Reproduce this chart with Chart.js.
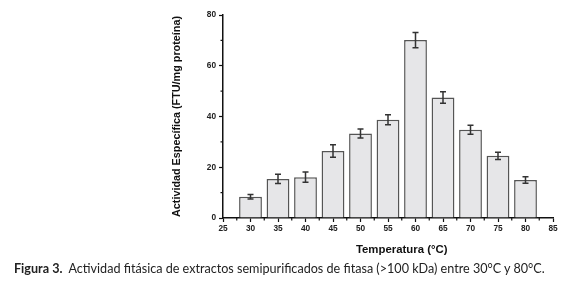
<!DOCTYPE html>
<html>
<head>
<meta charset="utf-8">
<script src="https://cdn.jsdelivr.net/npm/chart.js@4.4.1/dist/chart.umd.min.js"></script>
<style>
  html, body { margin: 0; padding: 0; background: #fff; }
  #wrap { position: relative; width: 579px; height: 292px; }
  #caption {
    position: absolute; left: 14px; top: 261px;
    font-family: Lato, "Open Sans", sans-serif; font-size: 12.6px; color: #222;
    white-space: nowrap;
  }
  #caption b { font-weight: 700; }
</style>
</head>
<body>
<div id="wrap">
  <canvas id="chart" width="579" height="292"></canvas>
  <div id="caption"><b>Figura 3.</b>&nbsp; Actividad fitásica de extractos semipurificados de fitasa (&gt;100 kDa) entre 30°C y 80°C.</div>
</div>
<script>
const temperatures = [30, 35, 40, 45, 50, 55, 60, 65, 70, 75, 80];
const activity = [8.4, 15.4, 16.1, 26.4, 33.3, 38.7, 70.1, 47.5, 34.8, 24.5, 15.0];
const errors = [0.9, 1.8, 2.0, 2.5, 1.8, 2.0, 3.0, 2.3, 1.8, 1.4, 1.3];
const xTicks = [25, 30, 35, 40, 45, 50, 55, 60, 65, 70, 75, 80, 85];
const yTicks = [0, 20, 40, 60, 80];
const xTitle = 'Temperatura (°C)';

const fontFam = '"Liberation Sans", Arial, sans-serif';

// error bars, minor ticks and the x title (sits right of centre in the original)
const extrasPlugin = {
  id: 'extras',
  afterDatasetsDraw(chart) {
    const ctx = chart.ctx;
    const x = chart.scales.x, y = chart.scales.y;
    ctx.save();
    ctx.strokeStyle = '#333';
    ctx.lineWidth = 1.5;
    temperatures.forEach((t, i) => {
      const px = x.getPixelForValue(t);
      const top = y.getPixelForValue(activity[i] + errors[i]);
      const bot = y.getPixelForValue(activity[i] - errors[i]);
      ctx.beginPath();
      ctx.moveTo(px, top); ctx.lineTo(px, bot);
      ctx.moveTo(px - 3, top); ctx.lineTo(px + 3, top);
      ctx.moveTo(px - 3, bot); ctx.lineTo(px + 3, bot);
      ctx.stroke();
    });
    ctx.strokeStyle = '#111';
    ctx.lineWidth = 1.2;
    const bottom = chart.chartArea.bottom, left = chart.chartArea.left;
    for (let v = 27.5; v < 85; v += 5) {
      const px = x.getPixelForValue(v);
      ctx.beginPath(); ctx.moveTo(px, bottom); ctx.lineTo(px, bottom + 2.5); ctx.stroke();
    }
    for (let v = 10; v < 80; v += 20) {
      const py = y.getPixelForValue(v);
      ctx.beginPath(); ctx.moveTo(left, py); ctx.lineTo(left - 2.5, py); ctx.stroke();
    }
    ctx.fillStyle = '#111';
    ctx.font = 'bold 11.4px ' + fontFam;
    ctx.textAlign = 'center';
    ctx.textBaseline = 'middle';
    ctx.fillText(xTitle, x.getPixelForValue(57.5), bottom + 32);
    ctx.restore();
  }
};

const tickFont = { family: fontFam, size: 8.3, weight: 'bold' };

new Chart(document.getElementById('chart'), {
  type: 'bar',
  data: {
    datasets: [{
      data: temperatures.map((t, i) => ({ x: t, y: activity[i] })),
      backgroundColor: '#e6e6e8',
      borderColor: '#555',
      borderWidth: 1.5,
      barPercentage: 0.83,
      categoryPercentage: 1
    }]
  },
  options: {
    responsive: false,
    animation: false,
    layout: { padding: { left: 167, right: 26, top: 15, bottom: 32 } },
    plugins: { legend: { display: false }, tooltip: { enabled: false } },
    scales: {
      x: {
        type: 'linear', min: 25, max: 85, offset: false,
        afterBuildTicks: s => { s.ticks = xTicks.map(v => ({ value: v })); },
        afterFit: s => { s.height = 42; },
        grid: { drawOnChartArea: false, offset: false, tickLength: 4, tickColor: '#111', tickWidth: 1.2 },
        border: { color: '#111', width: 1.5 },
        ticks: { color: '#222', font: tickFont, padding: 2, maxRotation: 0 }
      },
      y: {
        min: 0, max: 80,
        afterBuildTicks: s => { s.ticks = yTicks.map(v => ({ value: v })); },
        afterFit: s => { s.width = 56; },
        grid: { drawOnChartArea: false, tickLength: 4, tickColor: '#111', tickWidth: 1.2 },
        border: { color: '#111', width: 1.5 },
        ticks: { color: '#222', font: tickFont, padding: 3 },
        title: { display: true, text: 'Actividad Específica (FTU/mg proteína)', color: '#111', font: { family: fontFam, size: 10.8, weight: 'bold' }, padding: { top: 4, bottom: 4 } }
      }
    }
  },
  plugins: [extrasPlugin]
});
</script>
</body>
</html>
